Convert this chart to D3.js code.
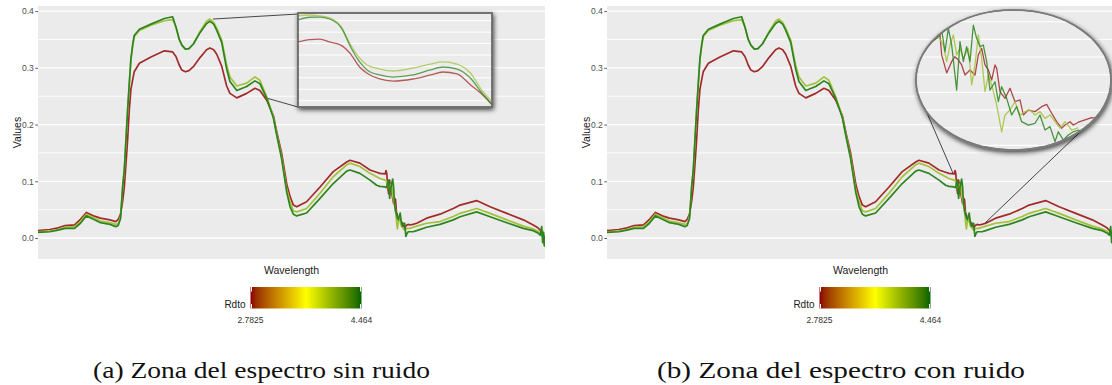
<!DOCTYPE html>
<html>
<head>
<meta charset="utf-8">
<script src="https://cdn.jsdelivr.net/npm/d3@7"></script>
<style>
  body { margin: 0; background: #ffffff; }
  svg { display: block; }
</style>
</head>
<body>
<svg id="chart" width="1112" height="385"></svg>
<script>
// ---------------- Spectra (reflectance vs wavelength, nm) ----------------
const wavelength = [350, 400, 435, 465, 505, 530, 555, 585, 615, 655, 680, 690, 700, 709, 716, 723, 730, 737, 744, 752, 758, 780, 829, 886, 921, 935, 949, 960, 975, 990, 1009, 1037, 1065, 1079, 1095, 1108, 1129, 1150, 1164, 1193, 1235, 1270, 1291, 1320, 1348, 1362, 1383, 1405, 1419, 1433, 1447, 1489, 1546, 1602, 1659, 1673, 1715, 1758, 1786, 1800, 1822, 1826,
  1829, 1833, 1837, 1841, 1845, 1850, 1854, 1858, 1862, 1866, 1870, 1874, 1878, 1882, 1886, 1890, 1895, 1900, 1905, 1910, 1915, 1920, 1927, 1940, 1956,
  1998, 2055, 2111, 2140, 2210, 2267, 2338, 2408, 2450, 2470, 2480, 2486, 2490, 2494, 2497, 2500];

// Rdto = 2.7825
const reflLow = [0.013, 0.015, 0.018, 0.022, 0.023, 0.033, 0.045, 0.039, 0.035, 0.032, 0.029, 0.033, 0.042, 0.065, 0.090, 0.130, 0.173, 0.225, 0.262, 0.280, 0.293, 0.308, 0.319, 0.330, 0.328, 0.320, 0.305, 0.296, 0.293, 0.295, 0.302, 0.318, 0.332, 0.335, 0.332, 0.324, 0.303, 0.268, 0.255, 0.247, 0.255, 0.264, 0.260, 0.243, 0.216, 0.188, 0.150, 0.095, 0.073, 0.058, 0.055, 0.064, 0.090, 0.117, 0.134, 0.137, 0.132, 0.120, 0.116, 0.114, 0.113, 0.119,
  0.114, 0.090, 0.078, 0.102, 0.092, 0.079, 0.070, 0.061, 0.070, 0.068, 0.046, 0.040, 0.036, 0.032, 0.034, 0.029, 0.026, 0.022, 0.017, 0.021, 0.023, 0.024, 0.023, 0.024, 0.026,
  0.035, 0.042, 0.052, 0.058, 0.066, 0.055, 0.0435, 0.032, 0.023, 0.018, 0.014, 0.010, 0.008, 0.004, 0.002, -0.004];

// Rdto ~ 4.1
const reflMid = [0.011, 0.012, 0.015, 0.019, 0.020, 0.029, 0.042, 0.036, 0.030, 0.027, 0.024, 0.025, 0.038, 0.090, 0.120, 0.173, 0.225, 0.270, 0.314, 0.340, 0.355, 0.366, 0.375, 0.383, 0.385, 0.372, 0.350, 0.340, 0.333, 0.334, 0.342, 0.364, 0.382, 0.386, 0.380, 0.370, 0.349, 0.305, 0.284, 0.268, 0.273, 0.284, 0.278, 0.249, 0.214, 0.185, 0.143, 0.085, 0.064, 0.048, 0.046, 0.052, 0.079, 0.108, 0.129, 0.132, 0.126, 0.114, 0.108, 0.105, 0.102, 0.101,
  0.100, 0.094, 0.088, 0.090, 0.094, 0.096, 0.075, 0.066, 0.058, 0.050, 0.030, 0.016, 0.028, 0.038, 0.030, 0.022, 0.019, 0.016, 0.014, 0.016, 0.017, 0.017, 0.017, 0.019, 0.021,
  0.026, 0.029, 0.038, 0.0435, 0.052, 0.0435, 0.032, 0.021, 0.016, 0.012, 0.008, 0.004, 0.012, -0.008, -0.014, -0.012];

// Rdto = 4.464
const reflHigh = [0.010, 0.011, 0.014, 0.017, 0.017, 0.026, 0.039, 0.033, 0.027, 0.024, 0.020, 0.022, 0.034, 0.090, 0.120, 0.173, 0.225, 0.272, 0.316, 0.342, 0.357, 0.368, 0.377, 0.387, 0.390, 0.372, 0.350, 0.340, 0.333, 0.334, 0.342, 0.362, 0.378, 0.382, 0.377, 0.366, 0.345, 0.298, 0.276, 0.260, 0.267, 0.277, 0.272, 0.246, 0.212, 0.182, 0.140, 0.080, 0.055, 0.042, 0.039, 0.044, 0.070, 0.096, 0.118, 0.120, 0.114, 0.102, 0.093, 0.091, 0.090, 0.089,
  0.090, 0.098, 0.102, 0.070, 0.085, 0.096, 0.104, 0.090, 0.060, 0.048, 0.042, 0.036, 0.032, 0.038, 0.044, 0.030, 0.021, 0.026, 0.026, 0.003, 0.008, 0.011, 0.011, 0.011, 0.013,
  0.019, 0.024, 0.032, 0.0375, 0.046, 0.0375, 0.027, 0.017, 0.013, 0.009, 0.005, 0.020, -0.008, 0.010, -0.012, -0.015];

const seriesNames = ["2.7825", "4.1", "4.464"];
const seriesColors = ["#a32a2a", "#a3c23a", "#2c8520"];

// ---------------- Magnified view, panel (a): 1092-1325 nm ----------------
const boxWavelength = [1092, 1106, 1118, 1130, 1145, 1154, 1166, 1175, 1190, 1206, 1230, 1251, 1266, 1283, 1299, 1311, 1325];
const boxLow  = [0.3714, 0.3735, 0.3738, 0.3714, 0.3680, 0.3620, 0.3495, 0.3440, 0.3390, 0.3372, 0.3390, 0.3425, 0.3451, 0.3434, 0.3340, 0.3270, 0.3171];
const boxMid  = [0.3944, 0.3950, 0.3942, 0.3924, 0.3836, 0.3705, 0.3574, 0.3512, 0.3477, 0.3460, 0.3486, 0.3521, 0.3539, 0.3521, 0.3442, 0.3311, 0.3189];
const boxHigh = [0.3906, 0.3930, 0.3932, 0.3915, 0.3827, 0.3687, 0.3539, 0.3469, 0.3425, 0.3407, 0.3425, 0.3469, 0.3495, 0.3477, 0.3398, 0.3285, 0.3162];
const boxGrid = [0.39, 0.38, 0.37, 0.36, 0.35, 0.34, 0.33, 0.32];

// ---------------- Magnified view, panel (b): noisy water band ----------------
const ellLowWl  = [1831, 1834, 1836, 1837, 1840, 1843, 1845, 1847, 1849, 1851, 1854, 1857, 1859, 1861, 1863, 1865, 1867, 1869, 1870, 1872, 1875, 1878, 1881, 1884, 1886, 1889, 1893, 1897, 1900, 1903, 1906, 1909, 1911, 1914, 1916, 1919, 1923, 1927, 1931, 1936];
const ellLow    = [0.0990, 0.1006, 0.1025, 0.0912, 0.0810, 0.0874, 0.0902, 0.0883, 0.0855, 0.0798, 0.0827, 0.0798, 0.0912, 0.0949, 0.0855, 0.0827, 0.0770, 0.0855, 0.0836, 0.0704, 0.0666, 0.0723, 0.0647, 0.0657, 0.0572, 0.0600, 0.0591, 0.0619, 0.0632, 0.0582, 0.0534, 0.0497, 0.0515, 0.0534, 0.0515, 0.0531, 0.0544, 0.0557, 0.0553, 0.0560];
const ellMidWl  = [1832, 1835, 1838, 1840, 1842, 1844, 1846, 1848, 1850, 1853, 1855, 1857, 1859, 1861, 1863, 1865, 1867, 1870, 1873, 1875, 1878, 1881, 1884, 1887, 1890, 1893, 1896, 1899, 1902, 1905, 1908, 1911, 1915, 1919];
const ellMid    = [0.0995, 0.1015, 0.0968, 0.0874, 0.0968, 0.1025, 0.0912, 0.0949, 0.0893, 0.0949, 0.0742, 0.0855, 0.1025, 0.0893, 0.0704, 0.0798, 0.0742, 0.0629, 0.0477, 0.0572, 0.0600, 0.0647, 0.0572, 0.0591, 0.0600, 0.0572, 0.0591, 0.0553, 0.0572, 0.0534, 0.0497, 0.0534, 0.0487, 0.0500];
const ellHighWl = [1831, 1834, 1837, 1839, 1841, 1843, 1846, 1848, 1850, 1852, 1854, 1856, 1858, 1860, 1862, 1864, 1866, 1869, 1871, 1873, 1876, 1879, 1882, 1885, 1889, 1893, 1896, 1899, 1902, 1905, 1907, 1910, 1913, 1916, 1919, 1923];
const ellHigh   = [0.0985, 0.1006, 0.1053, 0.0930, 0.1063, 0.0968, 0.0713, 0.0987, 0.0874, 0.0959, 0.0874, 0.1081, 0.1006, 0.0959, 0.0968, 0.0874, 0.0713, 0.0760, 0.0647, 0.0732, 0.0666, 0.0572, 0.0619, 0.0534, 0.0515, 0.0525, 0.0572, 0.0487, 0.0506, 0.0421, 0.0477, 0.0430, 0.0459, 0.0477, 0.0487, 0.0470];
const ellGrid = [0.12, 0.11, 0.10, 0.09, 0.08, 0.07, 0.06, 0.05, 0.04];

// ---------------- Axis / legend text ----------------
const yTicks = [0.0, 0.1, 0.2, 0.3, 0.4];
const yMinor = [0.05, 0.15, 0.25, 0.35];
const rdtoRange = [2.7825, 4.464];
const rdtoLabels = ["2.7825", "4.464"];
const captions = ["(a) Zona del espectro sin ruido", "(b) Zona del espectro con ruido"];

// ---------------- Layout ----------------
const svg = d3.select("#chart");
const panelW = 507, panelTop = 6, panelBottom = 259;
const panelLeft = [38, 607];
const sans = "'Liberation Sans', Arial, sans-serif";

const defs = svg.append("defs");
const shadow = defs.append("filter").attr("id", "shadow")
  .attr("x", "-20%").attr("y", "-20%").attr("width", "140%").attr("height", "150%");
shadow.append("feGaussianBlur").attr("in", "SourceAlpha").attr("stdDeviation", 2.6).attr("result", "blur");
shadow.append("feOffset").attr("in", "blur").attr("dx", 1).attr("dy", 2).attr("result", "off");
shadow.append("feComponentTransfer").attr("in", "off").attr("result", "soft")
  .append("feFuncA").attr("type", "linear").attr("slope", 0.75);
const merge = shadow.append("feMerge");
merge.append("feMergeNode").attr("in", "soft");
merge.append("feMergeNode").attr("in", "SourceGraphic");

const rampColors = ["#8b0000", "#ffff00", "#006400"];
const ramp = d3.piecewise(d3.interpolateLab, rampColors);
const grad = defs.append("linearGradient").attr("id", "rdtoRamp").attr("x1", "0%").attr("x2", "100%");
d3.range(0, 1.0001, 0.05).forEach(t => {
  grad.append("stop").attr("offset", (t * 100) + "%").attr("stop-color", ramp(t));
});

const series = [reflLow, reflMid, reflHigh];
const boxSeries = [boxLow, boxMid, boxHigh];
const ellSeries = [[ellLowWl, ellLow], [ellMidWl, ellMid], [ellHighWl, ellHigh]];

panelLeft.forEach((x0, pi) => {
  const g = svg.append("g");
  const x = d3.scaleLinear().domain([350, 2500]).range([x0, x0 + panelW]);
  const y = d3.scaleLinear().domain([-0.037, 0.409]).range([panelBottom, panelTop]);

  defs.append("clipPath").attr("id", "panelClip" + pi)
    .append("rect").attr("x", x0).attr("y", panelTop).attr("width", panelW).attr("height", panelBottom - panelTop);

  // panel background and grid
  g.append("rect").attr("x", x0).attr("y", panelTop).attr("width", panelW)
    .attr("height", panelBottom - panelTop).attr("fill", "#ebebeb");
  g.selectAll(".minor").data(yMinor).join("line")
    .attr("x1", x0).attr("x2", x0 + panelW).attr("y1", d => y(d)).attr("y2", d => y(d))
    .attr("stroke", "#ffffff").attr("stroke-width", 0.9);
  g.selectAll(".major").data(yTicks).join("line")
    .attr("x1", x0).attr("x2", x0 + panelW).attr("y1", d => y(d)).attr("y2", d => y(d))
    .attr("stroke", "#ffffff").attr("stroke-width", 1.3);

  // y axis
  const ax = g.append("g").attr("transform", `translate(${x0},0)`)
    .call(d3.axisLeft(y).tickValues(yTicks).tickFormat(d3.format(".1f")).tickSize(2.7).tickPadding(1.5));
  ax.select(".domain").remove();
  ax.selectAll("line").attr("stroke", "#333333").attr("stroke-width", 0.8);
  ax.selectAll("text").attr("fill", "#4d4d4d").style("font-family", sans).style("font-size", "8.5px");

  g.append("text").attr("transform", `translate(${x0 - 21},${(panelTop + panelBottom) / 2}) rotate(-90)`)
    .attr("text-anchor", "middle").attr("dy", "0.35em")
    .style("font-family", sans).style("font-size", "10.5px").attr("fill", "#1a1a1a").text("Values");
  g.append("text").attr("x", x0 + panelW / 2).attr("y", 273.5).attr("text-anchor", "middle")
    .style("font-family", sans).style("font-size", "10.5px").attr("fill", "#1a1a1a").text("Wavelength");

  // spectra
  const line = d3.line().x((d, i) => x(wavelength[i])).y(d => y(d));
  g.append("g").attr("clip-path", `url(#panelClip${pi})`)
    .selectAll("path").data(series).join("path")
    .attr("d", line).attr("fill", "none")
    .attr("stroke", (d, i) => seriesColors[i]).attr("stroke-width", 1.7)
    .attr("stroke-linejoin", "round");

  if (pi === 0) {
    // rectangular magnifier over the 1092-1325 nm shoulder
    const bx0 = 298, bx1 = 492, by0 = 13, by1 = 107;
    const bx = d3.scaleLinear().domain([boxWavelength[0], boxWavelength[boxWavelength.length - 1]]).range([bx0, bx1]);
    const by = d3.scaleLinear().domain([0.39, 0.32]).range([20.7, 100.7]);
    g.append("line").attr("x1", x(1092)).attr("y1", y(0.386)).attr("x2", bx0).attr("y2", by0 + 1)
      .attr("stroke", "#333").attr("stroke-width", 0.9);
    g.append("line").attr("x1", x(1325)).attr("y1", y(0.246)).attr("x2", bx0).attr("y2", by1)
      .attr("stroke", "#333").attr("stroke-width", 0.9);
    defs.append("clipPath").attr("id", "boxClip")
      .append("rect").attr("x", bx0).attr("y", by0).attr("width", bx1 - bx0).attr("height", by1 - by0);
    g.append("rect").attr("x", bx0).attr("y", by0).attr("width", bx1 - bx0).attr("height", by1 - by0)
      .attr("fill", "#ebebeb").attr("stroke", "#6e6e6e").attr("stroke-width", 1.6).attr("filter", "url(#shadow)");
    const inner = g.append("g").attr("clip-path", "url(#boxClip)");
    inner.selectAll("line").data(boxGrid).join("line")
      .attr("x1", bx0).attr("x2", bx1).attr("y1", d => by(d)).attr("y2", d => by(d))
      .attr("stroke", "#ffffff").attr("stroke-width", 1);
    const bline = d3.line().curve(d3.curveMonotoneX).x((d, i) => bx(boxWavelength[i])).y(d => by(d));
    inner.selectAll("path").data(boxSeries).join("path")
      .attr("d", bline).attr("fill", "none")
      .attr("stroke", (d, i) => seriesColors[i]).attr("stroke-opacity", 0.75).attr("stroke-width", 1.3);
    g.append("rect").attr("x", bx0).attr("y", by0).attr("width", bx1 - bx0).attr("height", by1 - by0)
      .attr("fill", "none").attr("stroke", "#6e6e6e").attr("stroke-width", 1.6);
  } else {
    // elliptical magnifier over the noisy water-absorption band
    const cx = 1013.5, cy = 80, rx = 97.5, ry = 70;
    const ex = d3.scaleLinear().domain([1830, 1932]).range([930, 1100]);
    const ey = d3.scaleLinear().domain([0.11, 0.05]).range([21.7, 127.7]);
    const onEllipse = deg => [cx + rx * Math.cos(deg * Math.PI / 180), cy + ry * Math.sin(deg * Math.PI / 180)];
    const pA = onEllipse(172), pB = onEllipse(44);
    g.append("line").attr("x1", x(1817)).attr("y1", y(0.1145)).attr("x2", pA[0]).attr("y2", pA[1])
      .attr("stroke", "#333").attr("stroke-width", 0.9);
    g.append("line").attr("x1", x(1953)).attr("y1", y(0.0264)).attr("x2", pB[0]).attr("y2", pB[1])
      .attr("stroke", "#333").attr("stroke-width", 0.9);
    defs.append("clipPath").attr("id", "ellClip")
      .append("ellipse").attr("cx", cx).attr("cy", cy).attr("rx", rx).attr("ry", ry);
    g.append("ellipse").attr("cx", cx).attr("cy", cy).attr("rx", rx).attr("ry", ry)
      .attr("fill", "#ebebeb").attr("stroke", "#7a7a7a").attr("stroke-width", 1.6).attr("filter", "url(#shadow)");
    const inner = g.append("g").attr("clip-path", "url(#ellClip)");
    inner.selectAll("line").data(ellGrid).join("line")
      .attr("x1", cx - rx).attr("x2", cx + rx).attr("y1", d => ey(d)).attr("y2", d => ey(d))
      .attr("stroke", "#ffffff").attr("stroke-width", 1.1);
    const eline = d3.line().x(d => ex(d[0])).y(d => ey(d[1]));
    inner.selectAll("path").data(ellSeries).join("path")
      .attr("d", d => eline(d[0].map((w, i) => [w, d[1][i]]))).attr("fill", "none")
      .attr("stroke", (d, i) => seriesColors[i]).attr("stroke-opacity", 0.85).attr("stroke-width", 1.3)
      .attr("stroke-linejoin", "round");
    g.append("ellipse").attr("cx", cx).attr("cy", cy).attr("rx", rx).attr("ry", ry)
      .attr("fill", "none").attr("stroke", "#7a7a7a").attr("stroke-width", 1.6);
  }

  // colour bar legend
  const lx0 = x0 + 212.5, lx1 = x0 + 323.5, ly0 = 287, ly1 = 308.5;
  const lg = d3.scaleLinear().domain(rdtoRange).range([lx0, lx1]);
  g.append("rect").attr("x", lx0).attr("y", ly0).attr("width", lx1 - lx0).attr("height", ly1 - ly0)
    .attr("fill", "url(#rdtoRamp)");
  rdtoRange.forEach(v => {
    const tx = lg(v) + (v === rdtoRange[0] ? 1 : -1);
    g.append("line").attr("x1", tx).attr("x2", tx)
      .attr("y1", ly0).attr("y2", ly0 + 4.5).attr("stroke", "#ffffff").attr("stroke-width", 1);
    g.append("line").attr("x1", tx).attr("x2", tx)
      .attr("y1", ly1 - 4.5).attr("y2", ly1).attr("stroke", "#ffffff").attr("stroke-width", 1);
  });
  g.selectAll(".lab").data(rdtoRange).join("text")
    .attr("x", d => lg(d)).attr("y", 322.5).attr("text-anchor", "middle")
    .style("font-family", sans).style("font-size", "8.5px").attr("fill", "#333333")
    .text((d, i) => rdtoLabels[i]);
  g.append("text").attr("x", lx0 - 5).attr("y", 307.5).attr("text-anchor", "end")
    .style("font-family", sans).style("font-size", "10px").attr("fill", "#1a1a1a").text("Rdto");
});

// sub-figure captions
const capCenter = [261.5, 841], capWidth = [337, 368];
svg.selectAll(".caption").data(captions).join("text")
  .attr("x", (d, i) => capCenter[i] - capWidth[i] / 2).attr("y", 377.5)
  .attr("textLength", (d, i) => capWidth[i]).attr("lengthAdjust", "spacingAndGlyphs")
  .style("font-family", "'Liberation Serif', 'Times New Roman', serif").style("font-size", "24px")
  .attr("fill", "#111").text(d => d);
</script>
</body>
</html>
